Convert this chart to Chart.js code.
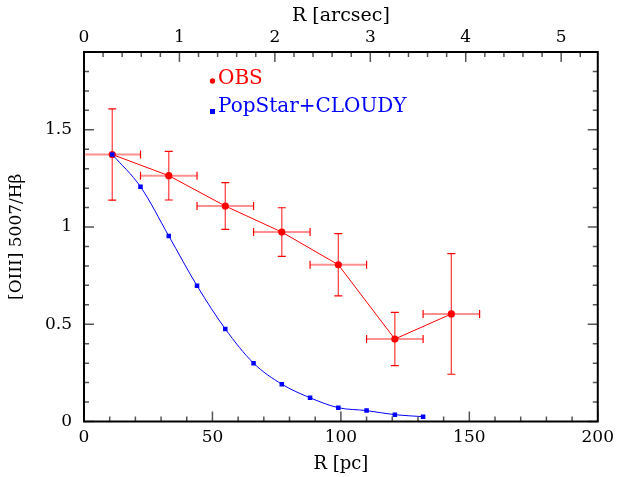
<!DOCTYPE html>
<html>
<head>
<meta charset="utf-8">
<script src="https://cdn.jsdelivr.net/npm/chart.js@4.4.1/dist/chart.umd.min.js"></script>
<style>
  html, body { margin: 0; padding: 0; background: #fff; }
  #wrap { width: 620px; height: 477px; }
</style>
</head>
<body>
<div id="wrap"><canvas id="c" width="620" height="477"></canvas></div>
<script>
// ---- data ----
const obsR      = [11, 33, 55, 77, 99, 121, 143];        // pc
const obsRatio  = [1.373, 1.264, 1.108, 0.974, 0.806, 0.424, 0.553];
const obsErrR   = [11, 11, 11, 11, 11, 11, 11];          // pc
const obsErrY   = [0.235, 0.125, 0.12, 0.125, 0.16, 0.137, 0.31];

const modR      = [11, 22, 33, 44, 55, 66, 77, 88, 99, 110, 121, 132];
const modRatio  = [1.373, 1.207, 0.954, 0.698, 0.476, 0.300, 0.192, 0.122, 0.071, 0.056, 0.035, 0.025];

const pcTicks     = [0, 50, 100, 150, 200];
const arcsecTicks = [0, 1, 2, 3, 4, 5];
const ratioTicks  = [0, 0.5, 1, 1.5];
const pcPerArcsec = 37.15;

const RED = '#ff0000', BLUE = '#0000ff';
const FONT = 'DejaVu Serif';

const obsPts = obsR.map((x, i) => ({x, y: obsRatio[i]}));
const modPts = modR.map((x, i) => ({x, y: modRatio[i]}));

// ---- plugin: frame, inward ticks, error bars, legend ----
const decor = {
  id: 'decor',
  beforeDatasetsDraw(chart) {
    const ctx = chart.ctx, xs = chart.scales.x, ys = chart.scales.y;
    ctx.save();
    for (let i = 0; i < obsR.length; i++) {
      const cx = xs.getPixelForValue(obsR[i]), cy = ys.getPixelForValue(obsRatio[i]);
      const x0 = xs.getPixelForValue(obsR[i] - obsErrR[i]), x1 = xs.getPixelForValue(obsR[i] + obsErrR[i]);
      const y0 = ys.getPixelForValue(obsRatio[i] - obsErrY[i]), y1 = ys.getPixelForValue(obsRatio[i] + obsErrY[i]);
      ctx.strokeStyle = 'rgba(255,70,70,0.6)';
      ctx.lineWidth = 2;
      ctx.beginPath();
      ctx.moveTo(x0, cy); ctx.lineTo(x1, cy);
      ctx.stroke();
      ctx.strokeStyle = 'rgba(255,40,40,0.85)';
      ctx.lineWidth = 1.3;
      ctx.beginPath();
      ctx.moveTo(cx, y0); ctx.lineTo(cx, y1);
      ctx.stroke();
      ctx.strokeStyle = RED;
      ctx.lineWidth = 1.2;
      ctx.beginPath();
      ctx.moveTo(x0, cy - 4); ctx.lineTo(x0, cy + 4);
      ctx.moveTo(x1, cy - 4); ctx.lineTo(x1, cy + 4);
      ctx.moveTo(cx - 4, y0); ctx.lineTo(cx + 4, y0);
      ctx.moveTo(cx - 4, y1); ctx.lineTo(cx + 4, y1);
      ctx.stroke();
    }
    ctx.restore();
  },
  afterDraw(chart) {
    const ctx = chart.ctx, a = chart.chartArea;
    const xs = chart.scales.x, x2 = chart.scales.x2, ys = chart.scales.y;
    ctx.save();
    ctx.strokeStyle = '#555';
    ctx.lineWidth = 1.5;
    ctx.beginPath();
    for (let v = 0; v <= 200; v += 10) {
      const p = xs.getPixelForValue(v), L = (v % 50 === 0) ? 10 : 5;
      ctx.moveTo(p, a.bottom); ctx.lineTo(p, a.bottom - L);
    }
    for (let k = 0; k <= 26; k++) {
      const v = k * 0.2; if (v > x2.max) break;
      const p = x2.getPixelForValue(v), L = (k % 5 === 0) ? 10 : 5;
      ctx.moveTo(p, a.top); ctx.lineTo(p, a.top + L);
    }
    for (let k = 0; k <= 19; k++) {
      const v = k * 0.1, p = ys.getPixelForValue(v), L = (k % 5 === 0) ? 10 : 5;
      ctx.moveTo(a.left, p); ctx.lineTo(a.left + L, p);
      ctx.moveTo(a.right, p); ctx.lineTo(a.right - L, p);
    }
    ctx.stroke();
    ctx.strokeStyle = '#000';
    ctx.lineWidth = 2;
    ctx.strokeRect(a.left, a.top, a.right - a.left, a.bottom - a.top);

    // legend
    ctx.font = '20px "' + FONT + '"';
    ctx.textBaseline = 'middle';
    ctx.textAlign = 'left';
    ctx.fillStyle = RED;
    ctx.beginPath(); ctx.arc(212.5, 81, 2.7, 0, Math.PI * 2); ctx.fill();
    ctx.fillText('OBS', 218, 79);
    ctx.fillStyle = BLUE;
    ctx.fillRect(210, 109, 5, 5);
    ctx.fillText('PopStar+CLOUDY', 218, 107);
    ctx.restore();
  }
};

const tickFont = {family: FONT, size: 17};
const numFmt = v => String(v);

new Chart(document.getElementById('c'), {
  type: 'line',
  data: {
    datasets: [
      {
        label: 'PopStar+CLOUDY', data: modPts,
        borderColor: BLUE, backgroundColor: BLUE, borderWidth: 1,
        pointStyle: 'rect', pointRadius: 3.2, pointBorderWidth: 0,
        cubicInterpolationMode: 'monotone'
      },
      {
        label: 'OBS', data: obsPts,
        borderColor: RED, backgroundColor: RED, borderWidth: 1,
        pointStyle: 'circle', pointRadius: 3.6, pointBorderWidth: 0,
        tension: 0
      }
    ]
  },
  options: {
    responsive: false,
    animation: false,
    events: [],
    layout: { padding: { left: 0, right: 20, top: 0, bottom: 0 } },
    plugins: { legend: { display: false }, tooltip: { enabled: false } },
    scales: {
      x: {
        type: 'linear', position: 'bottom', min: 0, max: 200,
        afterBuildTicks: s => { s.ticks = pcTicks.map(v => ({value: v})); },
        grid: { display: false, drawTicks: false }, border: { display: false },
        ticks: { font: tickFont, color: '#000', padding: 6, maxRotation: 0, callback: numFmt },
        title: { display: true, text: 'R [pc]', font: {family: FONT, size: 18}, color: '#000', padding: {top: 0, bottom: 2} },
        afterFit: s => { s.height = 55.5; }
      },
      x2: {
        type: 'linear', position: 'top', min: 0, max: 200 / pcPerArcsec,
        afterBuildTicks: s => { s.ticks = arcsecTicks.map(v => ({value: v})); },
        grid: { display: false, drawTicks: false }, border: { display: false },
        ticks: { font: tickFont, color: '#000', padding: 4, maxRotation: 0, callback: numFmt },
        title: { display: true, text: 'R [arcsec]', font: {family: FONT, size: 19}, color: '#000', padding: {top: 5, bottom: 0} },
        afterFit: s => { s.height = 52; }
      },
      y: {
        type: 'linear', position: 'left', min: 0, max: 1.9,
        afterBuildTicks: s => { s.ticks = ratioTicks.map(v => ({value: v})); },
        grid: { display: false, drawTicks: false }, border: { display: false },
        ticks: { font: tickFont, color: '#000', padding: 12, callback: numFmt },
        title: { display: true, text: '[OIII] 5007/Hβ', font: {family: FONT, size: 17}, color: '#000', padding: {top: 6, bottom: 0} },
        afterFit: s => { s.width = 84; }
      }
    }
  },
  plugins: [decor]
});
</script>
</body>
</html>
